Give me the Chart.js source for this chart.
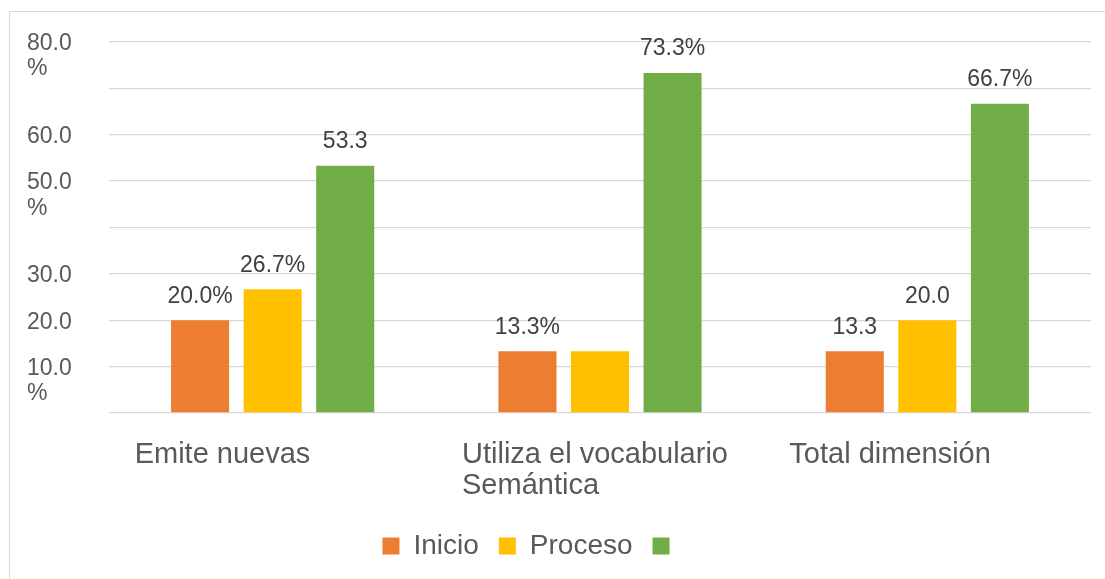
<!DOCTYPE html>
<html>
<head>
<meta charset="utf-8">
<script src="https://cdn.jsdelivr.net/npm/chart.js@4.4.1/dist/chart.umd.min.js"></script>
<style>
    body { margin: 0; background: #fff; }
    #marco {
        position: absolute; left: 9px; top: 11px; width: 1200px; height: 700px;
        border-left: 1px solid #d9d9d9; border-top: 1px solid #d9d9d9;
    }
    #contenedor { position: absolute; left: 0; top: 0; width: 1105px; height: 579px; }
</style>
</head>
<body>
<div id="marco"></div>
<div id="contenedor"><canvas id="graficoSemantica"></canvas></div>
<script>
// Datos del gráfico
const categorias = [['Emite nuevas'], ['Utiliza el vocabulario', 'Semántica'], ['Total dimensión']];
const inicio = [20.0, 13.3, 13.3];
const proceso = [26.7, 13.3, 20.0];
const logrado = [53.3, 73.3, 66.7];

// Etiquetas tal como aparecen sobre las barras
const etiquetasInicio = ['20.0%', '13.3%', '13.3'];
const etiquetasProceso = ['26.7%', '', '20.0'];
const etiquetasLogrado = ['53.3', '73.3%', '66.7%'];

// Etiquetas del eje Y (0, 10, ..., 80)
const etiquetasEjeY = ['', '10.0 %', '20.0', '30.0', '', '50.0 %', '60.0', '', '80.0 %'];

const fuente = '"Liberation Sans", Arial, sans-serif';

// Dibuja los valores encima de cada barra
const pluginEtiquetas = {
    id: 'etiquetas',
    afterDatasetsDraw(chart) {
        const ctx = chart.ctx;
        ctx.save();
        ctx.font = '23px ' + fuente;
        ctx.fillStyle = '#404040';
        ctx.textAlign = 'center';
        ctx.textBaseline = 'middle';
        chart.data.datasets.forEach((ds, i) => {
            chart.getDatasetMeta(i).data.forEach((barra, j) => {
                ctx.fillText(ds.etiquetas[j], barra.x, barra.y - 24);
            });
        });
        ctx.restore();
    }
};

// Corre la leyenda un poco a la izquierda
const pluginLeyenda = {
    id: 'leyenda',
    afterLayout(chart) {
        chart.legend.left -= 52;
    }
};

const ctx = document.getElementById('graficoSemantica').getContext('2d');
const grafico = new Chart(ctx, {
    type: 'bar',
    data: {
        labels: categorias,
        datasets: [
            { label: 'Inicio', data: inicio, etiquetas: etiquetasInicio, backgroundColor: '#ED7D31' },
            { label: 'Proceso', data: proceso, etiquetas: etiquetasProceso, backgroundColor: '#FFC000' },
            { label: '', data: logrado, etiquetas: etiquetasLogrado, backgroundColor: '#70AD47' }
        ]
    },
    options: {
        responsive: true,
        maintainAspectRatio: false,
        animation: false,
        categoryPercentage: 0.665,
        barPercentage: 0.8,
        layout: { padding: { left: 27, right: 14, top: 42, bottom: 9 } },
        plugins: {
            legend: {
                position: 'bottom',
                labels: {
                    boxWidth: 17,
                    boxHeight: 17,
                    padding: 20,
                    color: '#595959',
                    font: { family: fuente, size: 28 }
                }
            },
            tooltip: { enabled: false }
        },
        scales: {
            x: {
                grid: { display: false },
                border: { display: false },
                afterFit(scale) {
                    scale.height = 99;
                    scale.paddingLeft = 0;
                    scale.paddingRight = 0;
                },
                ticks: {
                    align: 'start',
                    labelOffset: -138,
                    padding: 19,
                    maxRotation: 0,
                    autoSkip: false,
                    color: '#595959',
                    font: { family: fuente, size: 29, lineHeight: 1.05 }
                }
            },
            y: {
                min: 0,
                max: 80,
                border: { display: false },
                grid: { color: '#d9d9d9', lineWidth: 1.3, drawTicks: false },
                afterFit(scale) {
                    scale.width = 82;
                    scale.paddingTop = 0;
                    scale.paddingBottom = 0;
                },
                ticks: {
                    stepSize: 10,
                    autoSkip: false,
                    crossAlign: 'far',
                    labelOffset: 2,
                    color: '#595959',
                    font: { family: fuente, size: 23, lineHeight: 1.09 },
                    callback(valor) {
                        const texto = etiquetasEjeY[Math.round(valor / 10)] || '';
                        const partes = texto.split(' ');
                        return partes.length > 1 ? ['', partes[0], partes[1]] : texto;
                    }
                }
            }
        }
    },
    plugins: [pluginEtiquetas, pluginLeyenda]
});
</script>
</body>
</html>
